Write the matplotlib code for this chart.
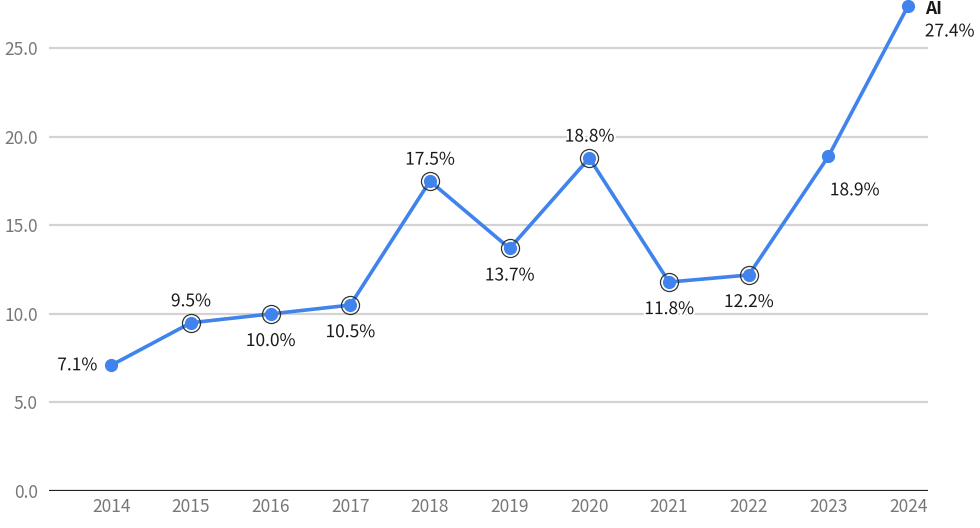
import matplotlib.pyplot as plt
import matplotlib.patheffects as pe

plt.rcParams['font.family'] = ['Noto Sans CJK SC', 'DejaVu Sans']

years = [2014, 2015, 2016, 2017, 2018, 2019, 2020, 2021, 2022, 2023, 2024]
share = [7.1, 9.5, 10.0, 10.5, 17.5, 13.7, 18.8, 11.8, 12.2, 18.9, 27.4]
ringed = [2015, 2016, 2017, 2018, 2019, 2020, 2021, 2022]
# where each value label sits relative to its point
label_pos = ['left', 'above', 'below', 'below', 'above', 'below', 'above',
             'below', 'below', 'belowright', 'right']
series_name = 'AI'
yticks = [0, 5, 10, 15, 20, 25]

blue = '#4083EC'
halo = [pe.withStroke(linewidth=3, foreground='white')]

fig = plt.figure(figsize=(9.8, 5.28), dpi=100)
ax = fig.add_axes([0.05, 0.07, 0.897, 0.9197])
ax.set_xlim(2013.22, 2024.25)
ax.set_ylim(0, 27.42)

for t in yticks[1:]:
    ax.axhline(t, color='#d3d3d3', lw=1.6, zorder=1)
ax.axhline(0, color='#222222', lw=1.6, zorder=2)

ax.plot(years, share, color=blue, lw=2.6, zorder=3, clip_on=False)
ax.plot(years, share, 'o', color=blue, ms=8.5, zorder=4, clip_on=False)
ring_vals = [share[years.index(y)] for y in ringed]
ax.plot(ringed, ring_vals, 'o', mfc='none', mec='#333333', mew=0.9, ms=13, zorder=5)

for y, v, pos in zip(years, share, label_pos):
    txt = f'{v:.1f}%'
    if pos == 'above':
        kw = dict(xytext=(0, 9), ha='center', va='bottom')
    elif pos == 'below':
        kw = dict(xytext=(0, -13), ha='center', va='top')
    elif pos == 'left':
        kw = dict(xytext=(-10, 0), ha='right', va='center')
    elif pos == 'belowright':
        kw = dict(xytext=(1, -18), ha='left', va='top')
    else:
        kw = dict(xytext=(12, -12), ha='left', va='top')
    ax.annotate(txt, (y, v), textcoords='offset points', fontsize=12.5,
                color='#1a1a1a', path_effects=halo, zorder=6, annotation_clip=False, **kw)

ax.annotate(series_name, (years[-1], share[-1]), textcoords='offset points',
            xytext=(12, -2.5), ha='left', va='center', fontsize=12.5, fontweight='bold',
            color='#1a1a1a', annotation_clip=False)

ax.set_yticks(yticks)
ax.set_yticklabels([f'{t:.1f}' for t in yticks])
ax.set_xticks(years)
ax.tick_params(length=0, labelsize=12.5, labelcolor='#777777', pad=5)
ax.tick_params(axis='y', pad=8)
for s in ax.spines.values():
    s.set_visible(False)

fig.savefig('out.png', dpi=100)
